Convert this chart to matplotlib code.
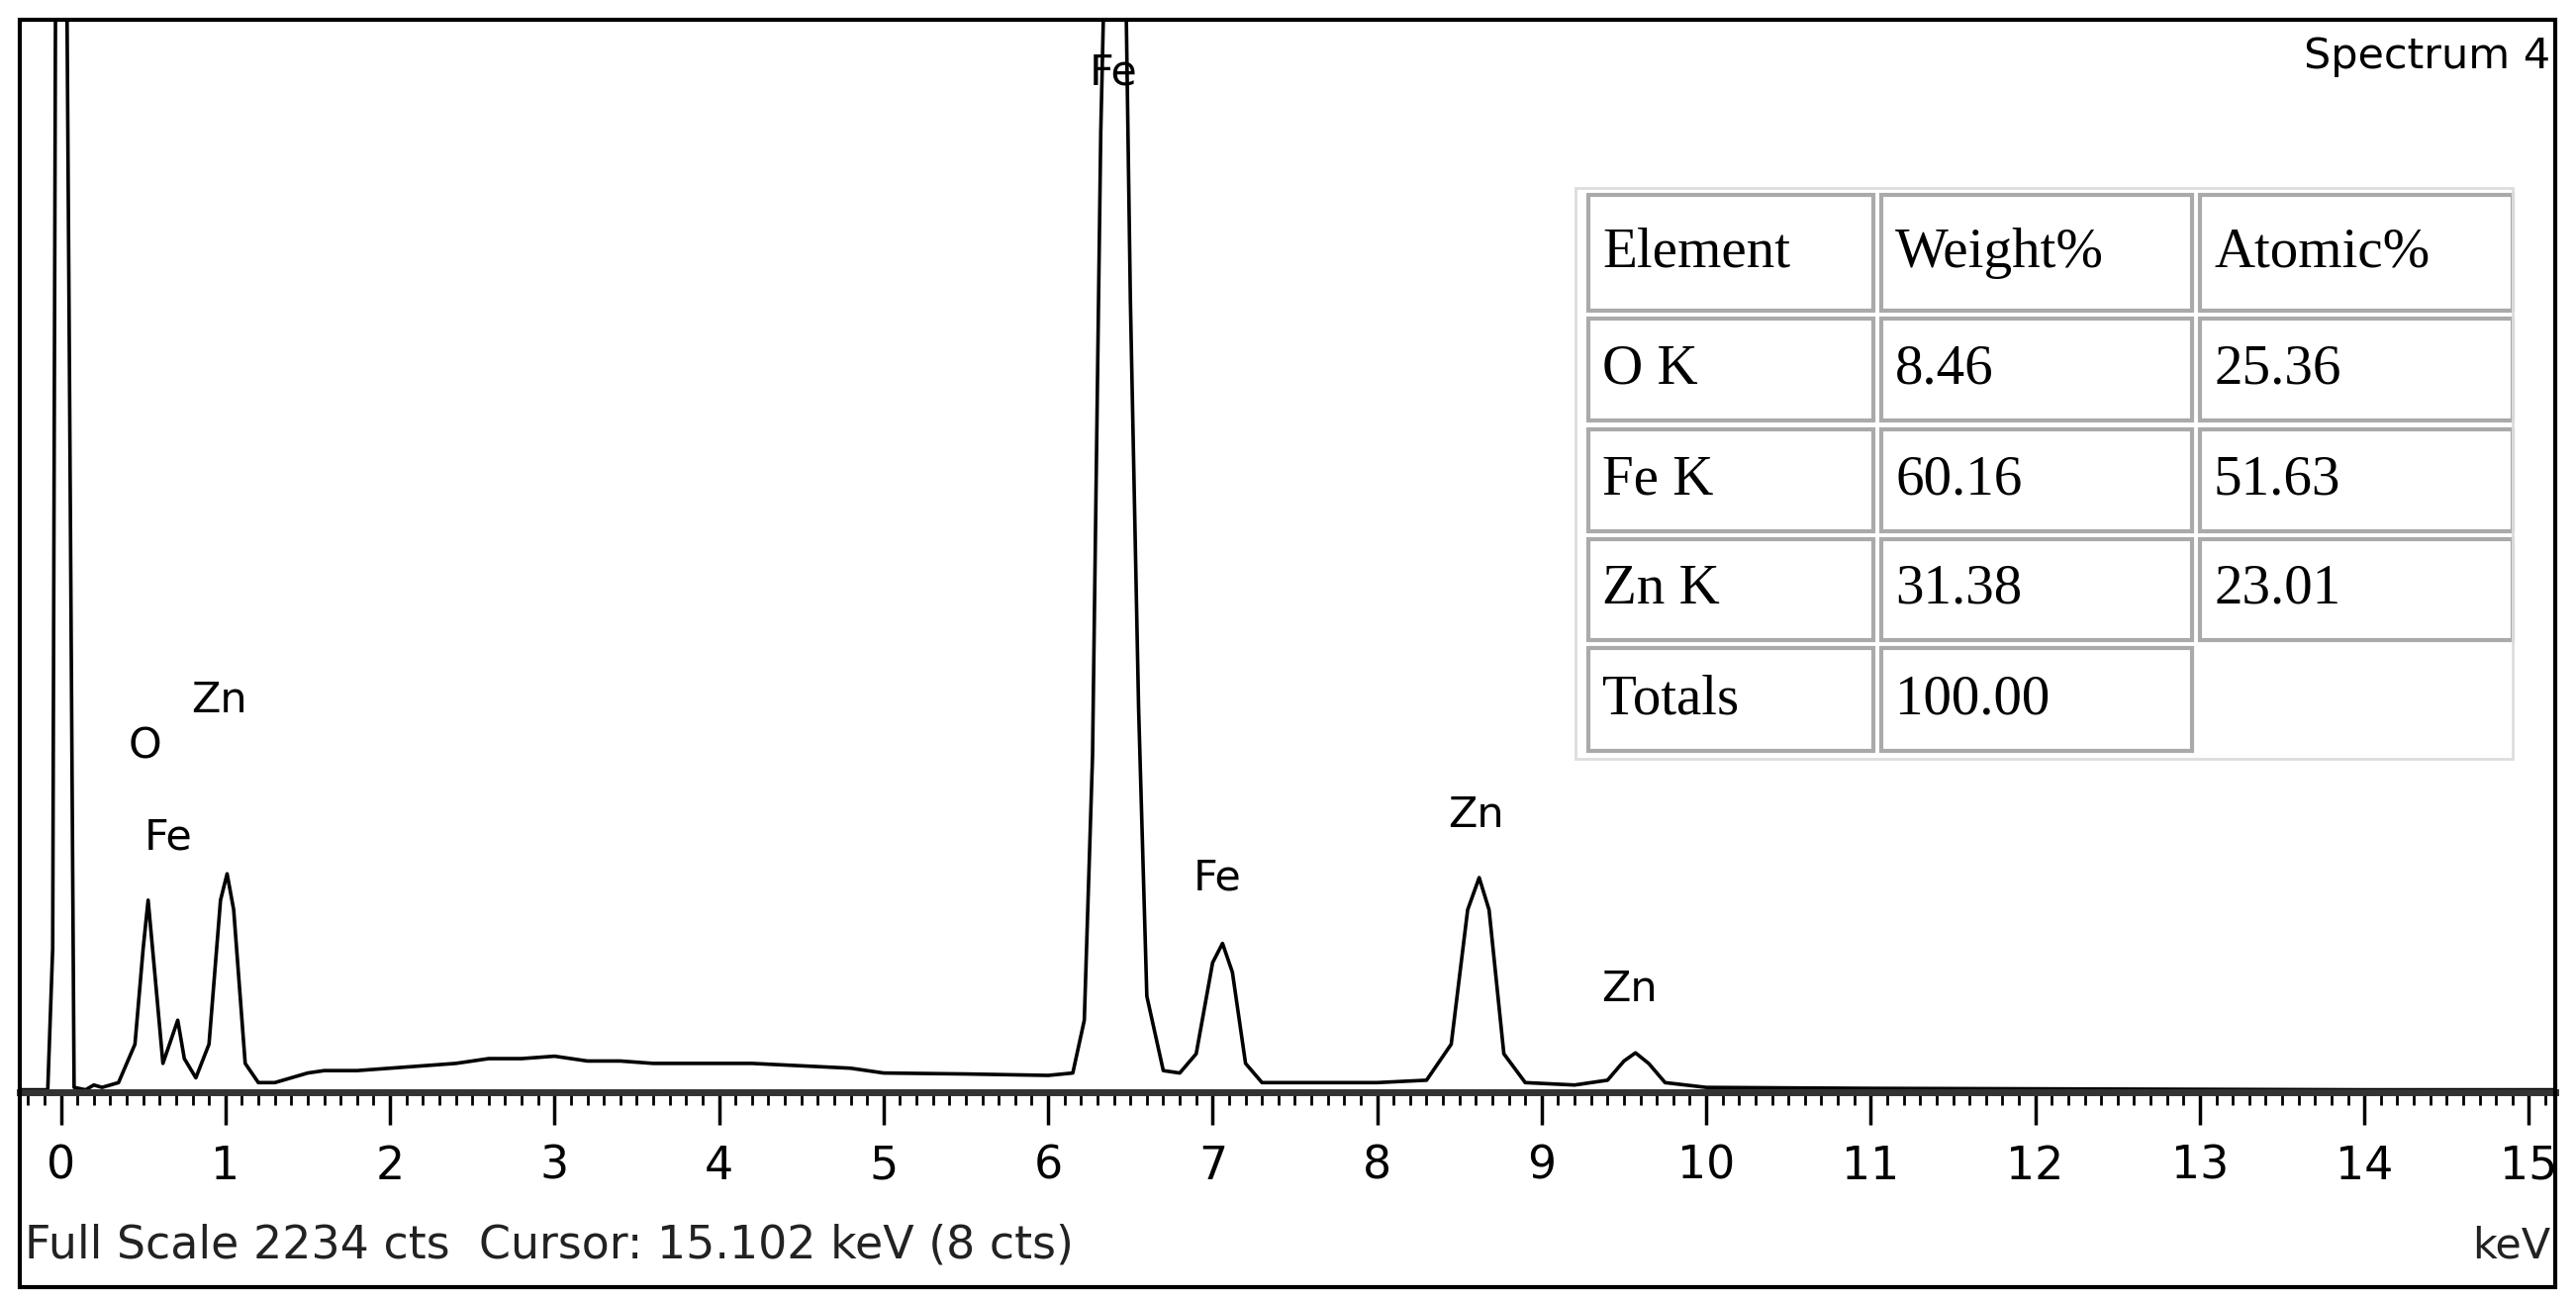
import matplotlib
matplotlib.use("Agg")
import matplotlib.pyplot as plt
from matplotlib.patches import Rectangle
from matplotlib.ticker import MultipleLocator

energy = [-0.25,-0.08,-0.05,-0.03,0.03,0.05,0.08,0.15,0.2,0.25,0.35,0.45,0.5,0.53,0.57,0.62,0.68,0.71,0.75,0.82,0.9,0.97,1.01,1.05,1.12,1.2,1.3,1.4,1.5,1.6,1.8,2.0,2.2,2.4,2.6,2.8,3.0,3.2,3.4,3.6,3.8,4.0,4.2,4.5,4.8,5.0,5.5,6.0,6.15,6.22,6.27,6.32,6.36,6.46,6.5,6.55,6.6,6.7,6.8,6.9,7.0,7.06,7.12,7.2,7.3,7.5,8.0,8.3,8.45,8.55,8.62,8.68,8.77,8.9,9.2,9.4,9.5,9.57,9.65,9.75,10,11,12,13,14,15.16]
counts = [5,5,300,2600,2600,1600,10,5,15,10,20,100,300,400,250,60,120,150,70,30,100,400,455,380,60,20,20,30,40,45,45,50,55,60,70,70,75,65,65,60,60,60,60,55,50,40,38,35,40,150,700,2000,2600,2600,1650,800,200,45,40,80,270,310,250,60,20,20,20,25,100,380,447,380,80,20,15,25,65,82,60,20,10,8,7,6,5,5]

peak_labels = ["O", "Zn", "Fe", "Fe", "Fe", "Zn", "Zn"]
peak_x = [0.51, 0.96, 0.65, 6.4, 7.03, 8.6, 9.53]
peak_y = [677, 773, 488, 2080, 402, 533, 172]

table_header = ["Element", "Weight%", "Atomic%"]
table_rows = [["O K", "8.46", "25.36"], ["Fe K", "60.16", "51.63"],
              ["Zn K", "31.38", "23.01"], ["Totals", "100.00", ""]]

W, H = 2603, 1311
fig = plt.figure(figsize=(W/100, H/100), dpi=100)
x0, x1 = 20, 2582
ybase, ytop = 1104, 20
ax = fig.add_axes([x0/W, (H-ybase)/H, (x1-x0)/W, (ybase-ytop)/H])
ax.plot(energy, counts, color="black", lw=2.6)
ax.set_xlim(-0.25, 15.16)
ax.set_ylim(0, 2234)
for s in ["top", "left", "right"]:
    ax.spines[s].set_visible(False)
ax.spines["bottom"].set_linewidth(5)
ax.spines["bottom"].set_color("#333333")
ax.set_yticks([])
ax.xaxis.set_major_locator(MultipleLocator(1))
ax.xaxis.set_minor_locator(MultipleLocator(0.1))
ax.tick_params(axis="x", which="major", length=24, width=2.5, labelsize=33, pad=14)
ax.tick_params(axis="x", which="minor", length=9, width=2)
for lab, x, y in zip(peak_labels, peak_x, peak_y):
    ax.text(x, y, lab, ha="center", va="bottom", fontsize=31)
ax.text(0.998, 0.985, "Spectrum 4", transform=ax.transAxes, ha="right", va="top", fontsize=31)

# outer frame
fig.add_artist(Rectangle((x0/W, (H-1301)/H), (x1-x0)/W, (1301-ytop)/H, transform=fig.transFigure,
                         fill=False, lw=3, ec="black"))
fig.text(x0/W + 0.002, (H-1259)/H, "Full Scale 2234 cts  Cursor: 15.102 keV (8 cts)", fontsize=33,
         ha="left", va="center", color="#222222")
fig.text(x1/W - 0.002, (H-1259)/H, "keV", fontsize=31, ha="right", va="center", color="#222222")

# table
cols = [(1605, 1893), (1901, 2215), (2223, 2539)]
rows = [(197, 314), (322, 425), (434, 537), (545, 647), (655, 759)]
allrows = [table_header] + table_rows
for r, (ya, yb) in enumerate(rows):
    for c, (xa, xb) in enumerate(cols):
        txt = allrows[r][c]
        if r == 4 and c == 2:
            continue
        fig.add_artist(Rectangle((xa/W, (H-yb)/H), (xb-xa)/W, (yb-ya)/H, transform=fig.transFigure,
                                 fill=False, lw=3, ec="#aaaaaa"))
        fig.text((xa+14)/W, (H-(ya+yb)/2)/H, txt, fontsize=41, family="Liberation Serif",
                 ha="left", va="center")
fig.add_artist(Rectangle((1592/W, (H-767)/H), (2539-1592)/W, (767-190)/H, transform=fig.transFigure,
                         fill=False, lw=2, ec="#dddddd"))
fig.savefig("out.png", dpi=100)
